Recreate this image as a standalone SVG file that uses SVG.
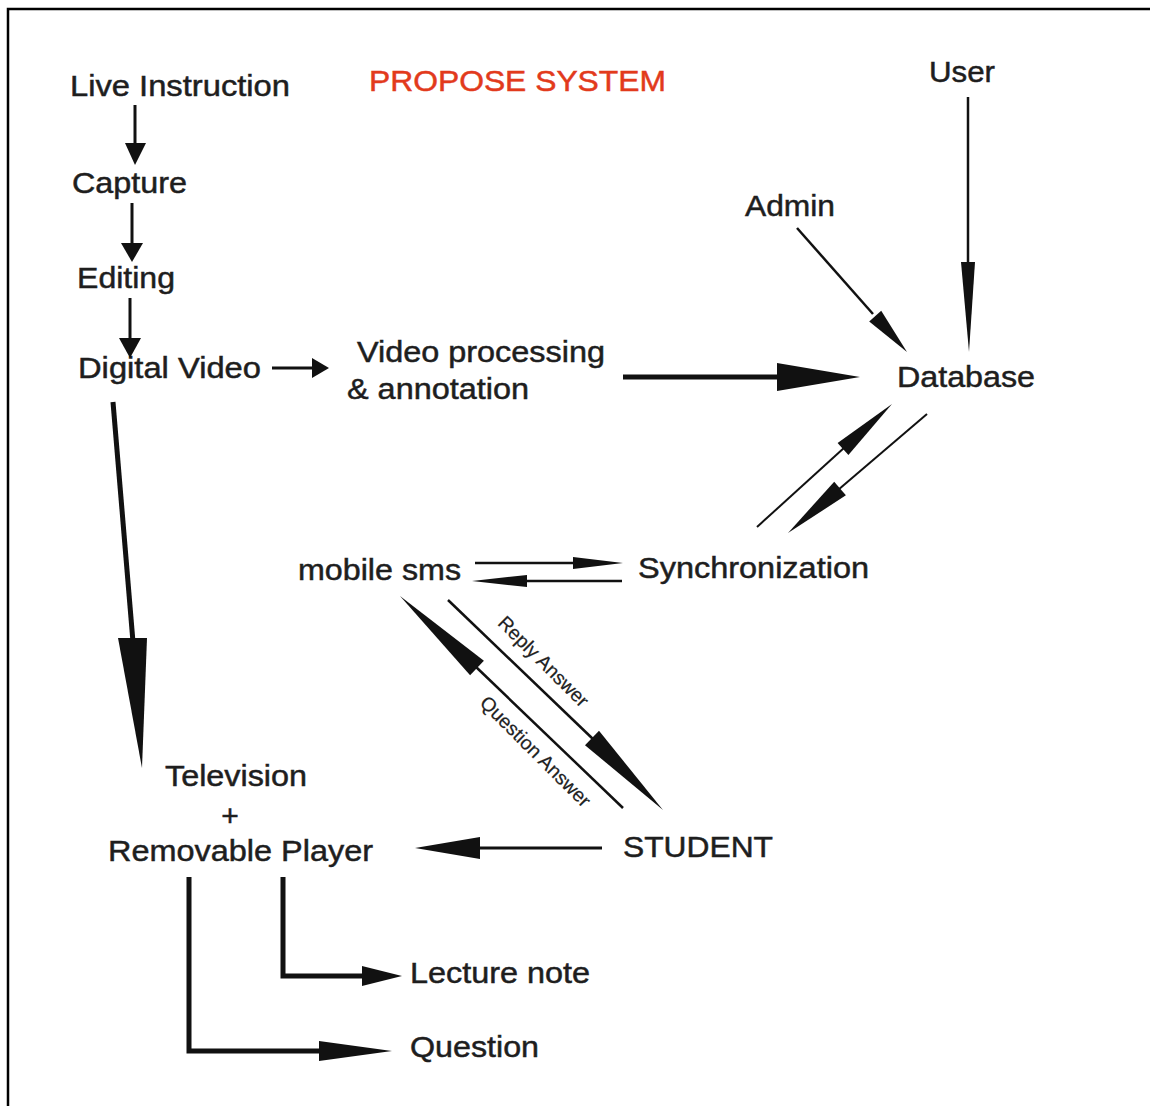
<svg xmlns="http://www.w3.org/2000/svg" width="1150" height="1106" viewBox="0 0 1150 1106">
<style>
.t{font-family:"Liberation Sans",Arial,Helvetica,sans-serif;font-size:30px;fill:#1e1e1e;stroke:#1e1e1e;stroke-width:0.5}
.s{font-family:"Liberation Sans",Arial,Helvetica,sans-serif;font-size:19.5px;fill:#222;stroke:#222;stroke-width:0.2}
.red{fill:#e23a1c;stroke:#e23a1c}
.l{stroke:#111;fill:none;stroke-linecap:butt}
.h{fill:#111;stroke:none}
</style>
<rect width="1150" height="1106" fill="#fff"/>
<path d="M8,1106 V9 H1150" stroke="#000" stroke-width="2.5" fill="none"/>

<g id="title"><text class="t red" x="369" y="91" textLength="297" lengthAdjust="spacingAndGlyphs">PROPOSE SYSTEM</text></g>
<g id="live-instruction"><text class="t" x="70" y="96" textLength="220" lengthAdjust="spacingAndGlyphs">Live Instruction</text></g>
<g id="capture"><text class="t" x="72" y="193" textLength="115" lengthAdjust="spacingAndGlyphs">Capture</text></g>
<g id="editing"><text class="t" x="77" y="288" textLength="98" lengthAdjust="spacingAndGlyphs">Editing</text></g>
<g id="digital-video"><text class="t" x="78" y="378" textLength="183" lengthAdjust="spacingAndGlyphs">Digital Video</text></g>
<g id="video-processing"><text class="t" x="357" y="362" textLength="248" lengthAdjust="spacingAndGlyphs">Video processing</text><text class="t" x="347" y="399" textLength="182" lengthAdjust="spacingAndGlyphs">&amp; annotation</text></g>
<g id="user"><text class="t" x="929" y="82" textLength="66" lengthAdjust="spacingAndGlyphs">User</text></g>
<g id="admin"><text class="t" x="745" y="216" textLength="90" lengthAdjust="spacingAndGlyphs">Admin</text></g>
<g id="database"><text class="t" x="897" y="387" textLength="138" lengthAdjust="spacingAndGlyphs">Database</text></g>
<g id="mobile-sms"><text class="t" x="298" y="580" textLength="163" lengthAdjust="spacingAndGlyphs">mobile sms</text></g>
<g id="synchronization"><text class="t" x="638" y="578" textLength="231" lengthAdjust="spacingAndGlyphs">Synchronization</text></g>
<g id="television"><text class="t" x="165" y="786" textLength="142" lengthAdjust="spacingAndGlyphs">Television</text><text class="t" x="230" y="826" text-anchor="middle">+</text><text class="t" x="108" y="861" textLength="265" lengthAdjust="spacingAndGlyphs">Removable Player</text></g>
<g id="student"><text class="t" x="623" y="857" textLength="150" lengthAdjust="spacingAndGlyphs">STUDENT</text></g>
<g id="lecture-note"><text class="t" x="410" y="983" textLength="180" lengthAdjust="spacingAndGlyphs">Lecture note</text></g>
<g id="question"><text class="t" x="410" y="1057" textLength="129" lengthAdjust="spacingAndGlyphs">Question</text></g>

<g id="connectors">
  <line class="l" x1="135" y1="105" x2="135" y2="145" stroke-width="3"/>
  <polygon class="h" points="125,143 146,143 135,165"/>
  <line class="l" x1="132" y1="203" x2="132" y2="245" stroke-width="3"/>
  <polygon class="h" points="121,243 143,243 132,262"/>
  <line class="l" x1="130" y1="298" x2="130" y2="340" stroke-width="3"/>
  <polygon class="h" points="119,338 141,338 130,358"/>
  <line class="l" x1="272" y1="368" x2="314" y2="368" stroke-width="3"/>
  <polygon class="h" points="312,358 312,378 329,368"/>
  <line class="l" x1="623" y1="377" x2="780" y2="377" stroke-width="5"/>
  <polygon class="h" points="777,363 777,391 860,377"/>
  <line class="l" x1="797" y1="228" x2="873" y2="314" stroke-width="2.5"/>
  <polygon class="h" points="907,352 869.2,321.4 881.2,310.8"/>
  <line class="l" x1="968" y1="97" x2="968" y2="265" stroke-width="2.5"/>
  <polygon class="h" points="961,262 975,262 969,352"/>
  <line class="l" x1="757" y1="527" x2="845" y2="447" stroke-width="2"/>
  <polygon class="h" points="892,404 848.4,454.9 837.6,443.1"/>
  <line class="l" x1="927" y1="414" x2="838" y2="490" stroke-width="2"/>
  <polygon class="h" points="788,533 834.2,481.7 845.9,495.3"/>
  <line class="l" x1="475" y1="563" x2="575" y2="563" stroke-width="2.5"/>
  <polygon class="h" points="573,557 573,569 623,563"/>
  <line class="l" x1="622" y1="581" x2="525" y2="581" stroke-width="2.5"/>
  <polygon class="h" points="527,575 527,587 472,581"/>
  <line class="l" x1="448" y1="600" x2="594" y2="740" stroke-width="2.5"/>
  <polygon class="h" points="663,810 585,745.2 599,730.8"/>
  <line class="l" x1="623" y1="808" x2="475" y2="666" stroke-width="2.5"/>
  <polygon class="h" points="400,596 483.9,660.8 470.1,675.2"/>
  <line class="l" x1="113" y1="402" x2="133" y2="642" stroke-width="5"/>
  <polygon class="h" points="118,638 147,638 142,768"/>
  <line class="l" x1="602" y1="848" x2="478" y2="848" stroke-width="3"/>
  <polygon class="h" points="480,837 480,859 415,848"/>
  <path class="l" d="M189,877 V1051 H322" stroke-width="5"/>
  <polygon class="h" points="319,1041 319,1061 392,1051"/>
  <path class="l" d="M283,877 V976 H364" stroke-width="5"/>
  <polygon class="h" points="362,966 362,986 402,976"/>
  <text class="s" x="538.8" y="666.2" text-anchor="middle" transform="rotate(45 538.8 666.2)">Reply Answer</text>
  <text class="s" x="530.8" y="756.2" text-anchor="middle" transform="rotate(45 530.8 756.2)">Question Answer</text>
</g>
</svg>
